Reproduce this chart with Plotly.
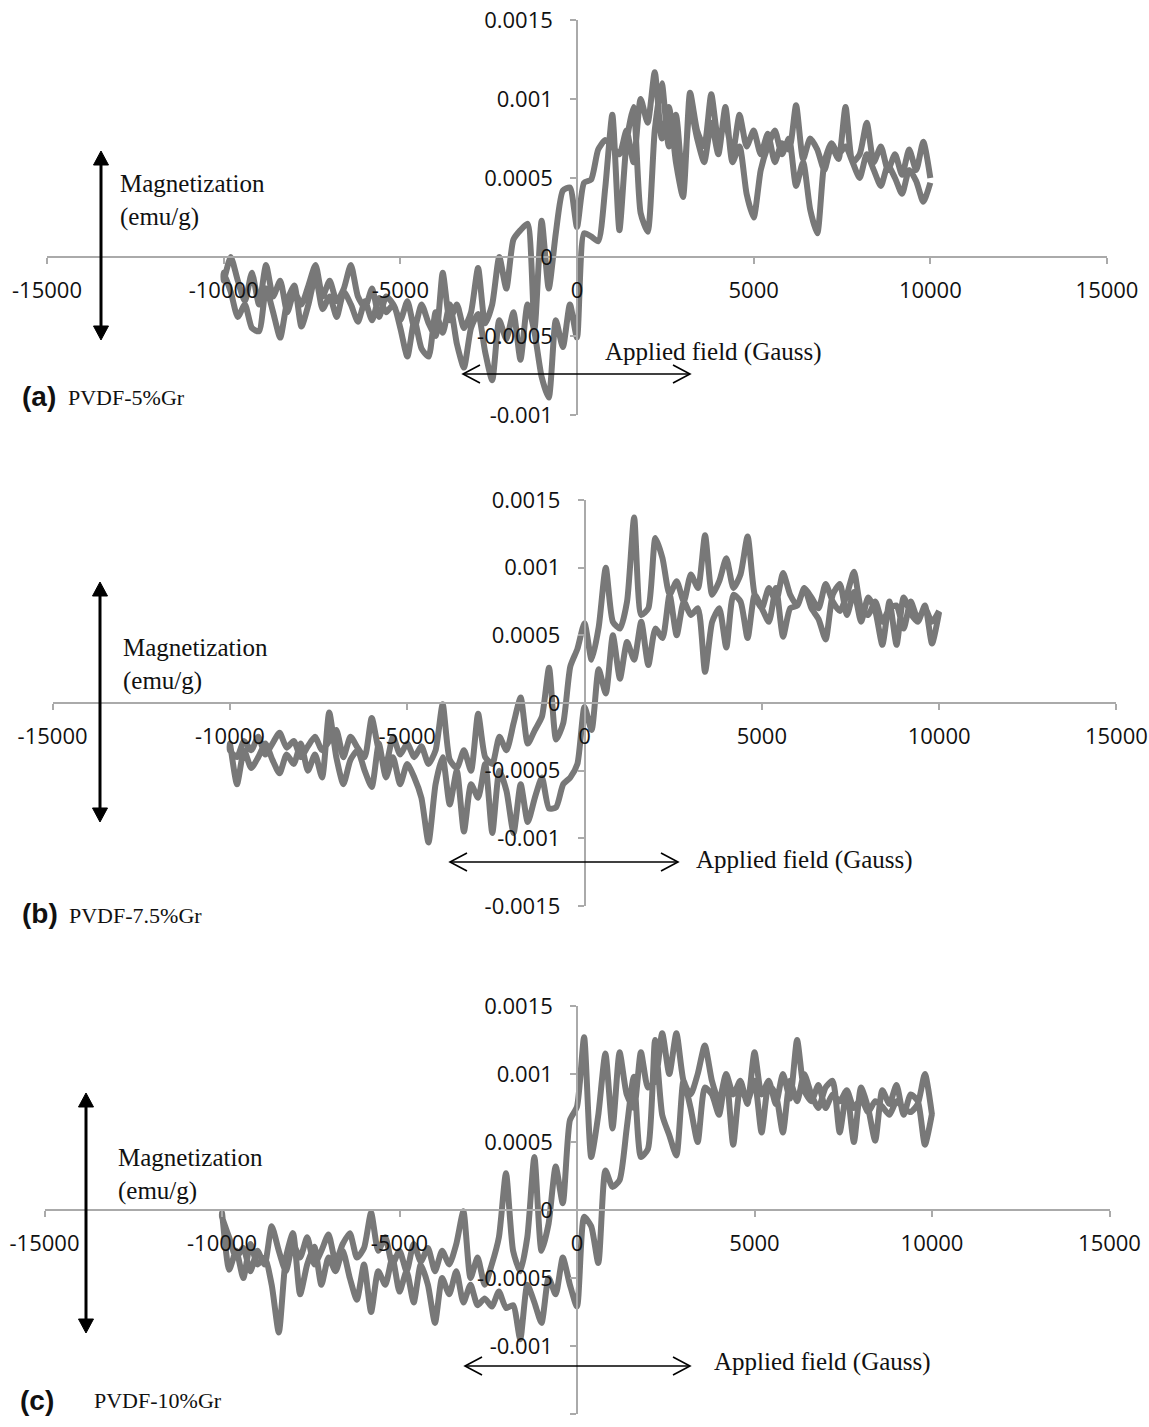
import plotly.graph_objects as go

W, H = 1149, 1427

# Applied field values (Gauss), shared by all three samples
field = [
    -10000, -9800, -9600, -9400, -9200, -9000, -8800, -8600, -8400, -8200,
    -8000, -7800, -7600, -7400, -7200, -7000, -6800, -6600, -6400, -6200,
    -6000, -5800, -5600, -5400, -5200, -5000, -4800, -4600, -4400, -4200,
    -4000, -3800, -3600, -3400, -3200, -3000, -2800, -2600, -2400, -2200,
    -2000, -1800, -1600, -1400, -1200, -1000, -800, -600, -400, -200,
    0, 200, 400, 600, 800, 1000, 1200, 1400, 1600, 1800,
    2000, 2200, 2400, 2600, 2800, 3000, 3200, 3400, 3600, 3800,
    4000, 4200, 4400, 4600, 4800, 5000, 5200, 5400, 5600, 5800,
    6000, 6200, 6400, 6600, 6800, 7000, 7200, 7400, 7600, 7800,
    8000, 8200, 8400, 8600, 8800, 9000, 9200, 9400, 9600, 9800,
    10000,
]

# Magnetization in units of 1e-5 emu/g, listed by increasing field
# (a) PVDF-5%Gr
m_a_up = [
    -10, -22, -38, -30, -45, -47, -20, -35, -51, -28,
    -18, -44, -30, -12, -33, -25, -38, -22, -30, -41,
    -28, -40, -26, -35, -30, -45, -63, -40, -58, -63,
    -35, -48, -30, -55, -70, -45, -36, -60, -78, -40,
    -52, -35, -65, -30, -48, -76, -89, -40, -57, -30,
    -51, 15, 13, 10, 44, 90, 17, 72, 95, 28,
    16, 80, 110, 70, 90, 45, 95, 75, 60, 85,
    65, 95, 60, 70, 40, 25, 55, 70, 80, 65,
    75, 45, 60, 30, 15, 60, 72, 65, 70, 60,
    50, 65, 55, 45, 58, 50, 40, 55, 48, 35,
    47,
]
m_a_down = [
    -15, 0, -15, -28, -10, -30, -5, -25, -15, -35,
    -22, -30, -18, -5, -25, -15, -28, -20, -5, -25,
    -32, -20, -38, -25, -30, -40, -28, -45, -30, -42,
    -50, -10, -40, -30, -45, -35, -7, -42, -30, 0,
    -20, 11, 17, 21, -45, 23, -20, 15, 42, 44,
    19, 47, 49, 68, 74, 70, 65, 80, 60, 100,
    85, 117, 75, 95, 60, 38, 104, 80, 70, 103,
    75, 85, 65, 90, 70, 80, 65, 78, 60, 72,
    68, 96, 62, 75, 68, 55, 70, 62, 95, 60,
    65, 85, 60, 70, 55, 65, 52, 68, 55, 73,
    50,
]
# (b) PVDF-7.5%Gr
m_b_up = [
    -30, -60, -35, -48, -40, -30, -42, -52, -38, -45,
    -30, -50, -38, -55, -7, -40, -60, -42, -35, -50,
    -62, -30, -55, -40, -60, -45, -55, -70, -103, -60,
    -40, -75, -50, -95, -60, -70, -45, -96, -50, -65,
    -96, -60, -88, -70, -55, -78, -77, -60, -55, -45,
    -3, -20, 25, 7, 50, 18, 45, 32, 60, 28,
    55, 48, 80, 50, 75, 65, 70, 23, 60, 70,
    41, 80, 75, 48, 80, 70, 60, 85, 49, 70,
    72, 85, 70, 62, 47, 80, 88, 65, 82, 60,
    78, 68, 43, 75, 43, 78, 66, 60, 72, 44,
    67,
]
m_b_down = [
    -35, -40, -28, -35, -25, -38, -30, -22, -33, -28,
    -40, -32, -25, -35, -28, -20, -40, -25, -33, -40,
    -11, -35, -45, -25, -38, -30, -40, -32, -45, -35,
    -1, -42, -48, -35, -50, -8, -40, -45, -25, -35,
    -15, 4, -30, -20, -10, 26, -27, -15, 27, 40,
    59, 32, 56, 100, 60, 55, 75, 137, 65, 70,
    122, 107, 80, 90, 75, 95, 85, 124, 80, 90,
    107, 85, 95, 123, 80, 70, 85, 75, 96, 80,
    72, 85, 78, 70, 88, 75, 68, 80, 97, 70,
    65, 75, 60, 70, 72, 55, 75, 62, 70, 60,
    68,
]
# (c) PVDF-10%Gr
m_c_up = [
    -2, -44, -30, -50, -25, -40, -35, -55, -90, -35,
    -17, -62, -40, -27, -55, -35, -45, -30, -50, -66,
    -40, -75, -45, -55, -35, -60, -45, -68, -40, -55,
    -83, -50, -62, -45, -68, -55, -70, -65, -71, -60,
    -72, -70, -95, -55, -68, -83, -50, -62, -35, -55,
    -71, -5, -12, -39, 29, 17, 22, 60, 98, 39,
    45, 125, 70, 55, 40, 95, 75, 50, 90, 85,
    70, 100, 48, 90, 80, 95, 57, 92, 85, 57,
    95, 80, 100, 85, 75, 90, 95, 57, 88, 50,
    90, 75, 51, 88, 78, 92, 70, 85, 80, 48,
    71,
]
m_c_down = [
    -5, -20, -35, -28, -45, -30, -40, -12, -30, -45,
    -25, -35, -20, -40, -30, -18, -38, -25, -17, -35,
    -28, -2, -30, -20, -40, -30, -45, -25, -38, -28,
    -45, -30, -40, -25, -1, -50, -35, -55, -40, -20,
    27, -30, -45, -20, 39, -30, -10, 32, 5, 66,
    76, 127, 39, 70, 115, 60, 116, 85, 75, 116,
    90, 95, 130, 100, 130, 95, 85, 100, 121, 95,
    80, 100, 85, 95, 78, 116, 85, 95, 78, 100,
    82, 125, 88, 80, 92, 75, 85, 80, 88, 75,
    82, 72, 80, 76, 70, 80, 75, 72, 78, 100,
    70,
]
UNIT = 1e-5

x_tickvals = [-15000, -10000, -5000, 0, 5000, 10000, 15000]
x_ticktext = ["-15000", "-10000", "-5000", "0", "5000", "10000", "15000"]
y_tickvals_a = [-0.001, -0.0005, 0, 0.0005, 0.001, 0.0015]
y_ticktext_a = ["-0.001", "-0.0005", "0", "0.0005", "0.001", "0.0015"]
y_tickvals_bc = [-0.0015, -0.001, -0.0005, 0, 0.0005, 0.001, 0.0015]
y_ticktext_bc = ["-0.0015", "-0.001", "-0.0005", "0", "0.0005", "0.001", "0.0015"]

samples = ["PVDF-5%Gr", "PVDF-7.5%Gr", "PVDF-10%Gr"]
panel_letters = ["(a)", "(b)", "(c)"]


def px(x):
    return x / W


def py(y):
    return 1 - y / H


LINE_COLOR = "rgb(120,120,120)"
AXIS_COLOR = "rgb(170,170,170)"
TICK_FONT = dict(family="Open Sans", size=22, color="#111")
SERIF = "Liberation Serif"

# panel geometry in pixels: x of -15000/15000, y of top/bottom of y-range, zero lines
panels = [
    dict(x0=47, x1=1107, yt=20, yb=415, y0=257, xz=577, yr=[-0.001, 0.0015],
         tv=y_tickvals_a, tt=y_ticktext_a, up=m_a_up, down=m_a_down),
    dict(x0=52.6, x1=1116.4, yt=500, yb=906, y0=703, xz=584.5, yr=[-0.0015, 0.0015],
         tv=y_tickvals_bc, tt=y_ticktext_bc, up=m_b_up, down=m_b_down),
    dict(x0=44.5, x1=1109.5, yt=1006, yb=1414, y0=1210, xz=577, yr=[-0.0015, 0.0015],
         tv=y_tickvals_bc, tt=y_ticktext_bc, up=m_c_up, down=m_c_down),
]

fig = go.Figure()
layout = dict(
    width=W, height=H, margin=dict(l=0, r=0, t=0, b=0),
    plot_bgcolor="white", paper_bgcolor="white", showlegend=False,
)

for i, p in enumerate(panels):
    sfx = "" if i == 0 else str(i + 1)
    xs = field[::-1] + field
    ys = [v * UNIT for v in p["down"][::-1] + p["up"]]
    fig.add_trace(go.Scatter(
        x=xs, y=ys, mode="lines", xaxis="x" + sfx, yaxis="y" + sfx,
        line=dict(color=LINE_COLOR, width=6, shape="spline", smoothing=0.6),
        hoverinfo="skip",
    ))
    layout["xaxis" + sfx] = dict(
        domain=[px(p["x0"]), px(p["x1"])], range=[-15000, 15000],
        tickvals=x_tickvals, ticktext=x_ticktext, tickfont=TICK_FONT,
        showline=True, linecolor=AXIS_COLOR, linewidth=1.5,
        ticks="outside", ticklen=6, tickwidth=1.5, tickcolor=AXIS_COLOR,
        showgrid=False, zeroline=False, anchor="free", position=py(p["y0"]),
        side="bottom", automargin=False, ticklabelstandoff=8,
    )
    layout["yaxis" + sfx] = dict(
        domain=[py(p["yb"]), py(p["yt"])], range=p["yr"],
        tickvals=p["tv"], ticktext=p["tt"], tickfont=TICK_FONT,
        showline=True, linecolor=AXIS_COLOR, linewidth=1.5,
        ticks="outside", ticklen=6, tickwidth=1.5, tickcolor=AXIS_COLOR,
        showgrid=False, zeroline=False, anchor="free", position=px(p["xz"]),
        side="left", automargin=False, ticklabelstandoff=13,
    )

fig.update_layout(**layout)

# ---- decorations (arrows, labels) in pixel positions ----
labels = [
    dict(mag=(118, 201), applied=(603, 352), letter=(20, 396), name=(66, 397),
         varrow=(101, 151, 340), harrow=(374, 463, 690)),
    dict(mag=(121, 665), applied=(694, 860), letter=(20, 914), name=(67, 915),
         varrow=(100, 582, 822), harrow=(862, 450, 678)),
    dict(mag=(116, 1174), applied=(712, 1362), letter=(18, 1400), name=(92, 1400),
         varrow=(86, 1093, 1333), harrow=(1366, 465, 690)),
]

shapes = []
annotations = []
for i, L in enumerate(labels):
    annotations.append(dict(
        x=px(L["mag"][0]), y=py(L["mag"][1]), xref="paper", yref="paper",
        xanchor="left", yanchor="middle", align="left", showarrow=False,
        text="Magnetization<br>(emu/g)", font=dict(family=SERIF, size=25, color="#111"),
    ))
    annotations.append(dict(
        x=px(L["applied"][0]), y=py(L["applied"][1]), xref="paper", yref="paper",
        xanchor="left", yanchor="middle", showarrow=False,
        text="Applied field (Gauss)", font=dict(family=SERIF, size=25, color="#111"),
    ))
    annotations.append(dict(
        x=px(L["letter"][0]), y=py(L["letter"][1]), xref="paper", yref="paper",
        xanchor="left", yanchor="middle", showarrow=False,
        text="<b>" + panel_letters[i] + "</b>",
        font=dict(family="Liberation Sans", size=28, color="#111"),
    ))
    annotations.append(dict(
        x=px(L["name"][0]), y=py(L["name"][1]), xref="paper", yref="paper",
        xanchor="left", yanchor="middle", showarrow=False,
        text=samples[i], font=dict(family=SERIF, size=22, color="#111"),
    ))
    # vertical double arrow with filled heads
    vx, vt, vb = L["varrow"]
    hl, hw = 14, 7.5
    shapes.append(dict(type="line", xref="paper", yref="paper",
                       x0=px(vx), x1=px(vx), y0=py(vt + hl - 2), y1=py(vb - hl + 2),
                       line=dict(color="black", width=3)))
    for tip, base in ((vt, vt + hl), (vb, vb - hl)):
        path = "M {:.5f},{:.5f} L {:.5f},{:.5f} L {:.5f},{:.5f} Z".format(
            px(vx - hw), py(base), px(vx), py(tip), px(vx + hw), py(base))
        shapes.append(dict(type="path", xref="paper", yref="paper", path=path,
                           fillcolor="black", line=dict(color="black", width=1)))
    # horizontal double arrow with open heads
    hy, hx0, hx1 = L["harrow"]
    shapes.append(dict(type="line", xref="paper", yref="paper",
                       x0=px(hx0), x1=px(hx1), y0=py(hy), y1=py(hy),
                       line=dict(color="black", width=1.6)))
    for tip, base in ((hx0, hx0 + 17), (hx1, hx1 - 17)):
        path = "M {:.5f},{:.5f} L {:.5f},{:.5f} L {:.5f},{:.5f}".format(
            px(base), py(hy - 9), px(tip), py(hy), px(base), py(hy + 9))
        shapes.append(dict(type="path", xref="paper", yref="paper", path=path,
                           line=dict(color="black", width=1.6)))

fig.update_layout(shapes=shapes, annotations=annotations)

fig.write_html("out.html", config={"displayModeBar": False},
               post_script="document.body.style.margin='0';")
